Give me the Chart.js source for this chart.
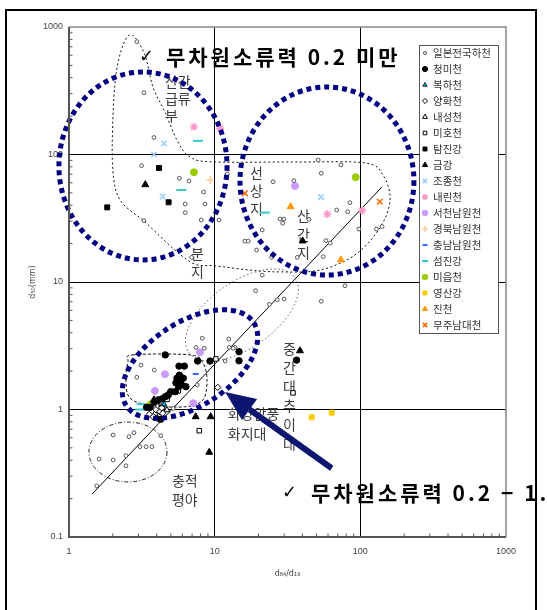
<!DOCTYPE html>
<html>
<head>
<meta charset="utf-8">
<script src="https://cdn.jsdelivr.net/npm/chart.js@4.4.1/dist/chart.umd.min.js"></script>
<style>
html,body{margin:0;padding:0;background:#fff;overflow:hidden}
canvas{display:block}
</style>
</head>
<body>
<canvas id="c" width="547" height="610"></canvas>
<script>
// ---- axis tick labels ----
const xTickLabels = ['1', '10', '100', '1000'];
const yTickLabels = ['0.1', '1', '10', '100', '1000'];

// ---- river series: [d84/d16, d50 (mm)] ----
const japanRivers = [[2.92,767],[3.27,305],[3.83,136],[3.15,81.7],[5.72,65.1],[6.66,62.0],[8.40,50.8],[6.28,40.9],[8.58,40.9],[6.28,35.0],[3.27,30.3],[8.09,30.6],[10.7,30.6],[12.2,70.3],[16.1,20.9],[17.0,20.9],[19.4,17.8],[51.4,90.5],[73.6,82.8],[53.9,71.2],[25.2,61.2],[35.0,62.3],[28.1,31.2],[29.9,31.2],[29.3,28.9],[44.4,31.0],[68.8,36.7],[81.8,35.6],[84.8,41.9],[141,27.2],[129,26.0],[97.8,26.0],[21.2,25.6],[24.6,15.6],[36.9,15.6],[58.1,21.1],[62.2,20.2],[55.6,15.8],[21.2,11.3],[78.4,9.35],[19.1,8.55],[30.0,7.36],[26.9,7.26],[53.9,7.06],[23.7,6.68],[6.95,15.6],[8.22,3.62],[8.49,3.02],[7.44,3.07],[12.5,3.57],[12.6,3.07],[13.8,3.07],[13.4,3.02],[11.8,2.40],[3.12,2.23],[3.85,2.04],[2.92,1.79],[7.60,1.56],[5.20,1.02],[1.55,0.252],[1.61,0.409],[2.01,0.402],[2.01,0.631],[2.46,0.362],[2.46,0.434],[2.58,0.612],[2.79,0.658],[3.07,0.511],[3.38,0.511],[3.71,0.511],[4.26,0.624]];
const cheongmi = [[4.58,2.68],[5.69,2.19],[6.19,2.19],[7.64,2.40],[9.29,2.40],[14.7,2.84],[14.7,2.41],[36.5,2.44],[5.51,1.76],[5.78,1.67],[5.42,1.62],[6.09,1.76],[5.93,1.56],[5.66,1.51],[6.35,1.51],[5.37,1.38],[4.99,1.38],[4.80,1.30],[4.58,1.26],[4.33,1.21],[4.10,1.19],[3.85,1.14],[3.41,1.04],[5.73,1.86],[4.26,0.838],[3.60,1.04]];
const bokha = [[4.5,1.1]];
const yanghwa = [[10.5,1.49],[3.56,0.916],[3.79,0.878],[3.95,0.996],[4.21,0.961],[4.04,0.853],[4.40,0.934],[4.33,1.03]];
const naeseong = [[4.7,0.99],[3.9,0.93]];
const miho = [[10.2,2.49],[5.63,1.40],[4.71,1.20],[4.28,1.12],[4.33,1.15],[7.84,0.682],[34.5,1.35]];
const tamjin = [[4.15,78.4],[4.83,42.2],[1.83,38.5]];
const geum = [[3.34,58.0],[40.2,21.0],[38.5,2.89],[7.41,0.878],[9.38,0.878],[9.18,0.462],[3.83,1.19]];
const jojong = [[4.49,122],[3.83,100],[4.40,46.7],[53.7,46.4]];
const naerin = [[7.21,165],[10.9,160],[59.3,34.1],[103,36.3]];
const seocheonNamwon = [[35.6,56.6],[7.93,2.81],[4.56,1.89],[3.89,1.40],[7.13,1.12]];
const gyeongbukNamwon = [[9.33,63.1]];
const chungnamNamwon = [[7.41,1.90],[5.51,1.61]];
const seomjin = [[7.68,128],[5.90,52.7],[22.1,35.0],[3.15,1.10],[3.07,1.0]];
const mieup = [[7.21,72.5],[92.9,66.2],[3.64,1.10]];
const yeongsan = [[46.3,0.869],[63.6,0.944]];
const jincheon = [[33.2,39.0],[73.6,14.9]];
const mujuNamdae = [[16.1,49.6],[136,42.6]];

// regression line end points
const trendLine = [[1.44,0.217],[140.7,55.6]];

const seriesNames = ['일본전국하천','청미천','복하천','양화천','내성천','미호천','탐진강','금강','조종천','내린천','서천남원천','경북남원천','충남남원천','섬진강','미읍천','영산강','진천','무주남대천'];
const seriesData = [japanRivers,cheongmi,bokha,yanghwa,naeseong,miho,tamjin,geum,jojong,naerin,seocheonNamwon,gyeongbukNamwon,chungnamNamwon,seomjin,mieup,yeongsan,jincheon,mujuNamdae];

// marker styles per series
const markerStyles = [
  {pointStyle:'circle',   radius:1.9, bg:'#fff',    border:'#555',    bw:1},
  {pointStyle:'circle',   radius:3.2, bg:'#000',    border:'#000',    bw:1},
  {pointStyle:'triangle', radius:3.2, bg:'#00b0f0', border:'#000',    bw:0.8},
  {pointStyle:'rectRot',  radius:3.2, bg:'#fff',    border:'#000',    bw:1},
  {pointStyle:'triangle', radius:3.5, bg:'#fff',    border:'#000',    bw:1},
  {pointStyle:'rect',     radius:3.2, bg:'#fff',    border:'#000',    bw:1},
  {pointStyle:'rect',     radius:3.5, bg:'#000',    border:'#000',    bw:1},
  {pointStyle:'triangle', radius:4,   bg:'#000',    border:'#000',    bw:1},
  {pointStyle:'crossRot', radius:4,   bg:'#99ccff', border:'#99ccff', bw:1.5},
  {pointStyle:'star',     radius:4,   bg:'#ff99cc', border:'#ff99cc', bw:1.5},
  {pointStyle:'circle',   radius:3.5, bg:'#cc99ff', border:'#cc99ff', bw:1},
  {pointStyle:'cross',    radius:4,   bg:'#ffcc99', border:'#ffcc99', bw:1.5},
  {pointStyle:'line',     radius:3,   bg:'#3366ff', border:'#3366ff', bw:2},
  {pointStyle:'line',     radius:5,   bg:'#33cccc', border:'#33cccc', bw:2},
  {pointStyle:'circle',   radius:3.5, bg:'#99cc00', border:'#99cc00', bw:1},
  {pointStyle:'rect',     radius:3.5, bg:'#ffcc00', border:'#ffcc00', bw:1},
  {pointStyle:'triangle', radius:4,   bg:'#ff9900', border:'#ff9900', bw:1},
  {pointStyle:'crossRot', radius:4,   bg:'#ff6600', border:'#ff6600', bw:1.5}
];

// ---- zone annotations (data coordinates) ----
const blueZones = [
  {cx:3.22, cy:81.3, rx:0.577, ry:0.737, rot:0},
  {cx:59.0, cy:62.0, rx:0.597, ry:0.737, rot:0},
  {cx:6.77, cy:2.27, rx:0.522, ry:0.329, rot:-33}
];
const upperOutline = [[2.71,865],[3.32,603],[3.77,338],[4.56,215],[5.51,130],[6.77,95.6],[10,87.4],[38.5,87.4],[108,85.8],[143,69.0],[160,44.0],[136,26.5],[91.8,16.3],[52.8,12.4],[28.1,12.0],[17.5,12.4],[10,13.4],[7.33,13.8],[5.34,17.8],[3.32,29.6],[2.24,44.0],[2.00,75.5],[2.00,187],[2.10,421],[2.35,722]];
const cheongmiOutline = [[2.75,2.68],[6.77,2.68],[8.31,2.32],[8.86,1.70],[8.31,1.19],[6.25,1.05],[3.60,1.08],[2.62,1.23],[2.46,1.70],[2.54,2.36]];
const basinZone = {cx:15.4, cy:5.51, rx:0.446, ry:0.259, rot:-35};
const plainZone = {cx:2.54, cy:0.464, rx:0.268, ry:0.235, rot:0};
const zoneLabels = [
  {lines:['산간','급류','부'], x:4.56, y:370, step:17},
  {lines:['선','상','지'], x:17.5, y:71.6, step:18},
  {lines:['산','간','지'], x:36.7, y:32.9, step:18.5},
  {lines:['분','지'], x:6.88, y:16.6, step:18},
  {lines:['중','간','대','추','이','대'], x:29.4, y:2.98, step:19},
  {lines:['화강암풍','화지대'], x:12.3, y:0.922, step:20},
  {lines:['충적','평야'], x:5.09, y:0.275, step:19}
];
const callouts = [
  {text:'무차원소류력 0.2 미만', x:4.63, y:582, checkX:3.38},
  {text:'무차원소류력 0.2 − 1.0', x:45.8, y:0.221, checkX:32.4}
];
const arrow = {from:[63.6,0.346], to:[11.8,1.37]};

const KR = '"Noto Sans CJK KR", "Noto Sans", sans-serif';

function isDecade(v) {
  const e = Math.log10(v);
  return Math.abs(e - Math.round(e)) < 1e-9;
}

function smoothClosed(ctx, pts) {
  const n = pts.length;
  ctx.moveTo(pts[0][0], pts[0][1]);
  for (let i = 0; i < n; i++) {
    const p0 = pts[(i - 1 + n) % n], p1 = pts[i], p2 = pts[(i + 1) % n], p3 = pts[(i + 2) % n];
    ctx.bezierCurveTo(
      p1[0] + (p2[0] - p0[0]) / 6, p1[1] + (p2[1] - p0[1]) / 6,
      p2[0] - (p3[0] - p1[0]) / 6, p2[1] - (p3[1] - p1[1]) / 6,
      p2[0], p2[1]);
  }
  ctx.closePath();
}

function toPx(chart, p) {
  return [chart.scales.x.getPixelForValue(p[0]), chart.scales.y.getPixelForValue(p[1])];
}

function ellipsePath(chart, z) {
  const sx = chart.scales.x, sy = chart.scales.y;
  const decX = sx.getPixelForValue(10) - sx.getPixelForValue(1);
  const decY = sy.getPixelForValue(1) - sy.getPixelForValue(10);
  const [cx, cy] = toPx(chart, [z.cx, z.cy]);
  const ctx = chart.ctx;
  ctx.beginPath();
  ctx.ellipse(cx, cy, z.rx * decX, z.ry * decY, z.rot * Math.PI / 180, 0, Math.PI * 2);
}

const zonesBehind = {
  id: 'zonesBehind',
  beforeDatasetsDraw(chart) {
    const ctx = chart.ctx;
    ctx.save();
    // thin outlines of landform zones
    ctx.lineWidth = 1;
    ctx.strokeStyle = '#111';
    ctx.setLineDash([2, 2.5]);
    ctx.beginPath();
    smoothClosed(ctx, upperOutline.map(p => toPx(chart, p)));
    ctx.stroke();
    ctx.setLineDash([3, 2]);
    ctx.beginPath();
    smoothClosed(ctx, cheongmiOutline.map(p => toPx(chart, p)));
    ctx.stroke();
    ctx.strokeStyle = '#555';
    ctx.setLineDash([1.5, 2.5]);
    ellipsePath(chart, basinZone);
    ctx.stroke();
    ctx.strokeStyle = '#222';
    ctx.setLineDash([4, 2, 1, 2]);
    ellipsePath(chart, plainZone);
    ctx.stroke();
    ctx.setLineDash([]);
    // zone names
    ctx.fillStyle = '#3c3c3c';
    ctx.font = '14px ' + KR;
    ctx.textAlign = 'left';
    ctx.textBaseline = 'middle';
    zoneLabels.forEach(l => {
      const [x, y] = toPx(chart, [l.x, l.y]);
      l.lines.forEach((t, i) => ctx.fillText(t, x, y + i * l.step));
    });
    ctx.restore();
  }
};

const overlays = {
  id: 'overlays',
  afterDatasetsDraw(chart) {
    const ctx = chart.ctx;
    const area = chart.chartArea;
    const sx = chart.scales.x, sy = chart.scales.y;
    ctx.save();
    // navy dotted ellipses
    ctx.strokeStyle = '#000080';
    ctx.lineWidth = 5;
    ctx.setLineDash([5, 4]);
    blueZones.forEach(z => { ellipsePath(chart, z); ctx.stroke(); });
    ctx.setLineDash([]);

    // arrow
    const [x0, y0] = toPx(chart, arrow.from);
    const [x1, y1] = toPx(chart, arrow.to);
    const ang = Math.atan2(y1 - y0, x1 - x0);
    const headLen = 30, headHalf = 13;
    const bx = x1 - Math.cos(ang) * headLen, by = y1 - Math.sin(ang) * headLen;
    ctx.strokeStyle = '#0c1670';
    ctx.fillStyle = '#0c1670';
    ctx.lineWidth = 6;
    ctx.beginPath();
    ctx.moveTo(x0, y0);
    ctx.lineTo(bx, by);
    ctx.stroke();
    ctx.beginPath();
    ctx.moveTo(x1, y1);
    ctx.lineTo(bx + Math.sin(ang) * headHalf, by - Math.cos(ang) * headHalf);
    ctx.lineTo(bx - Math.sin(ang) * headHalf, by + Math.cos(ang) * headHalf);
    ctx.closePath();
    ctx.fill();

    // axis frame and minor ticks
    ctx.lineWidth = 1.5;
    ctx.strokeStyle = '#888';
    ctx.beginPath();
    ctx.moveTo(area.left, area.top);
    ctx.lineTo(area.right, area.top);
    ctx.lineTo(area.right, area.bottom);
    ctx.stroke();
    ctx.lineWidth = 2;
    ctx.strokeStyle = '#555';
    ctx.beginPath();
    ctx.moveTo(area.left, area.top);
    ctx.lineTo(area.left, area.bottom);
    ctx.lineTo(area.right, area.bottom);
    ctx.stroke();
    ctx.lineWidth = 1;
    ctx.beginPath();
    for (let d = 0.1; d < 1000; d *= 10) {
      for (let k = 2; k <= 9; k++) {
        const py = sy.getPixelForValue(d * k);
        ctx.moveTo(area.left, py); ctx.lineTo(area.left + 3.5, py);
      }
    }
    for (let d = 1; d < 1000; d *= 10) {
      for (let k = 2; k <= 9; k++) {
        const px = sx.getPixelForValue(d * k);
        ctx.moveTo(px, area.bottom); ctx.lineTo(px, area.bottom - 3.5);
      }
    }
    ctx.stroke();

    // callout texts
    ctx.fillStyle = '#000';
    ctx.textBaseline = 'middle';
    ctx.textAlign = 'left';
    callouts.forEach(c => {
      const [tx, ty] = toPx(chart, [c.x, c.y]);
      const [cxp] = toPx(chart, [c.checkX, c.y]);
      ctx.font = 'bold 18px "DejaVu Sans"';
      ctx.letterSpacing = '0px';
      ctx.fillText('✓', cxp - 7, ty);
      ctx.font = 'bold 21px ' + KR;
      ctx.letterSpacing = '3px';
      ctx.fillText(c.text, tx, ty);
    });
    ctx.letterSpacing = '0px';

    // legend box
    const lx = 419, ly = 45, lw = 79, lh = 288;
    ctx.fillStyle = '#fff';
    ctx.fillRect(lx, ly, lw, lh);
    ctx.strokeStyle = '#555';
    ctx.lineWidth = 1;
    ctx.strokeRect(lx + 0.5, ly + 0.5, lw, lh);
    ctx.font = '10.5px ' + KR;
    ctx.textBaseline = 'middle';
    seriesNames.forEach((name, i) => {
      const y = ly + 8 + i * 16;
      const s = markerStyles[i];
      ctx.save();
      ctx.fillStyle = s.bg;
      ctx.strokeStyle = s.border;
      ctx.lineWidth = s.bw;
      Chart.helpers.drawPoint(ctx, {pointStyle: s.pointStyle, radius: Math.min(s.radius * 0.8, 3), rotation: 0, borderWidth: s.bw}, lx + 6, y);
      ctx.restore();
      ctx.fillStyle = '#333';
      ctx.fillText(name, lx + 14, y + 0.5);
    });

    // outer frame
    ctx.strokeStyle = '#000';
    ctx.lineWidth = 2;
    ctx.strokeRect(6, 10, 530, 610);
    ctx.restore();
  }
};

const datasets = seriesData.map((arr, i) => {
  const s = markerStyles[i];
  return {
    type: 'scatter',
    label: seriesNames[i],
    data: arr.map(p => ({x: p[0], y: p[1]})),
    pointStyle: s.pointStyle,
    pointRadius: s.radius,
    pointBackgroundColor: s.bg,
    pointBorderColor: s.border,
    pointBorderWidth: s.bw,
    order: 1
  };
});
datasets.push({
  type: 'line',
  label: 'trend',
  data: trendLine.map(p => ({x: p[0], y: p[1]})),
  borderColor: '#000',
  borderWidth: 1,
  pointRadius: 0,
  fill: false,
  order: 2
});

const tickFont = {family: '"Liberation Sans", Arial, sans-serif', size: 9};

new Chart(document.getElementById('c'), {
  type: 'scatter',
  data: {datasets},
  options: {
    responsive: false,
    animation: false,
    devicePixelRatio: 1,
    layout: {padding: {left: 24, top: 27, right: 41, bottom: 27}},
    plugins: {legend: {display: false}, tooltip: {enabled: false}},
    scales: {
      x: {
        type: 'logarithmic', min: 1, max: 1000, position: 'bottom',
        afterFit(s) { s.height = 46; },
        border: {display: false},
        grid: {
          drawTicks: false,
          lineWidth: 1,
          color: c => (c.tick && isDecade(c.tick.value) && c.tick.value > 1 && c.tick.value < 1000) ? '#000' : 'rgba(0,0,0,0)'
        },
        ticks: {
          autoSkip: false, maxRotation: 0, padding: 9, color: '#444', font: tickFont,
          callback: v => isDecade(v) ? xTickLabels[Math.round(Math.log10(v))] : ''
        },
        title: {display: true, text: 'd₈₄/d₁₆', color: '#444', font: {family: '"DejaVu Sans"', size: 8}}
      },
      y: {
        type: 'logarithmic', min: 0.1, max: 1000,
        afterFit(s) { s.width = 45; },
        border: {display: false},
        grid: {
          drawTicks: false,
          lineWidth: 1,
          color: c => (c.tick && isDecade(c.tick.value) && c.tick.value > 0.1 && c.tick.value < 1000) ? '#000' : 'rgba(0,0,0,0)'
        },
        ticks: {
          autoSkip: false, padding: 6, color: '#444', font: tickFont,
          callback: v => isDecade(v) ? yTickLabels[Math.round(Math.log10(v)) + 1] : ''
        },
        title: {display: true, text: 'd₅₀(mm)', color: '#444', font: {family: '"DejaVu Sans"', size: 8}}
      }
    }
  },
  plugins: [zonesBehind, overlays]
});
</script>
</body>
</html>
